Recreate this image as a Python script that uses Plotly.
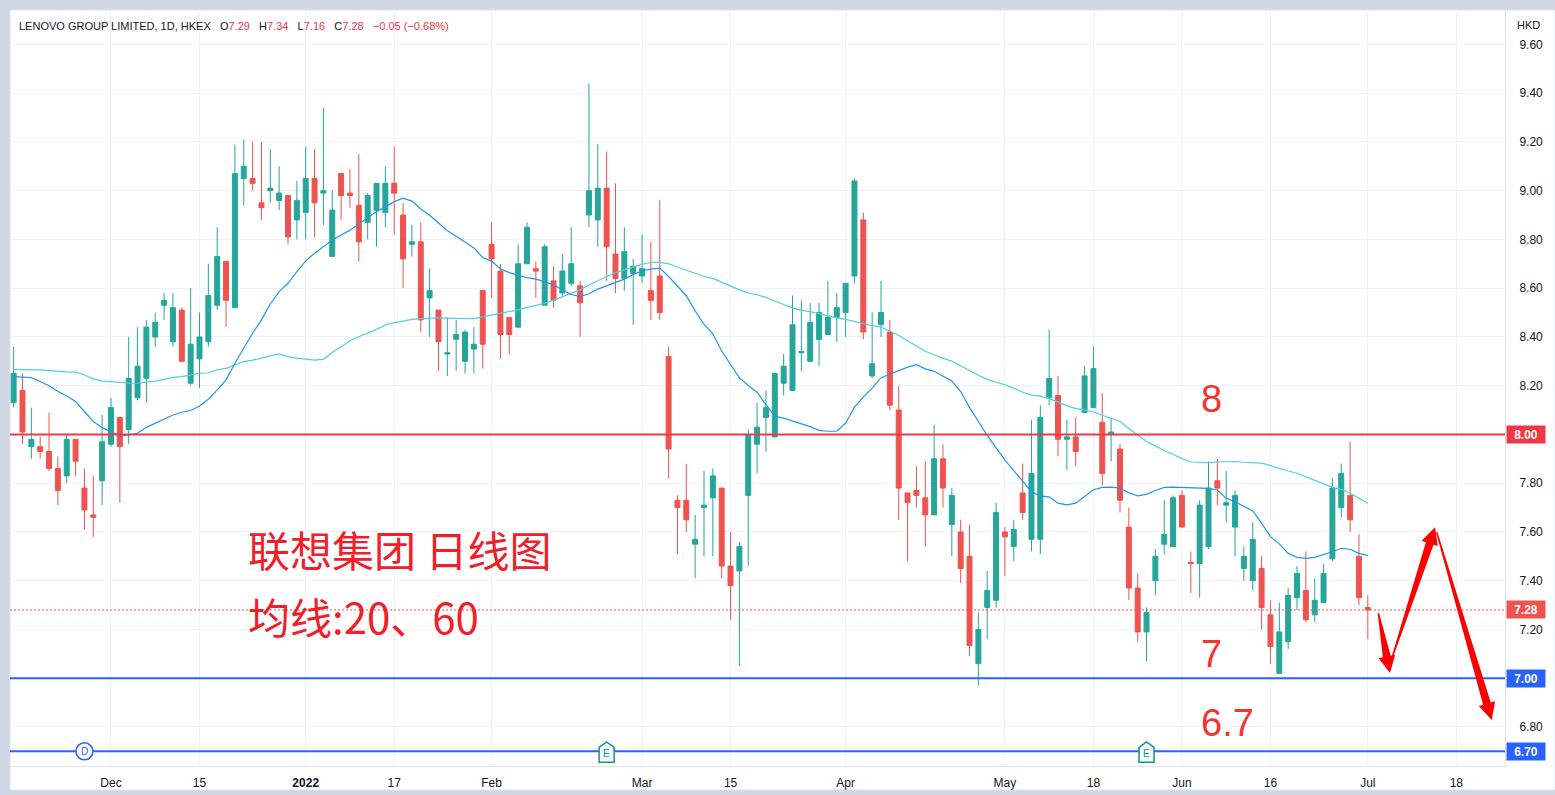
import math
import pandas as pd
import plotly.graph_objects as go

# ---------------- data ----------------
hk_holidays = ["2021-12-27", "2022-02-01", "2022-02-02", "2022-02-03", "2022-04-05",
               "2022-04-15", "2022-04-18", "2022-05-02", "2022-05-09", "2022-06-03", "2022-07-01"]
trading_days = pd.bdate_range("2021-11-16", "2022-08-12", freq="C", holidays=hk_holidays)

open_ = [8.13, 8.18, 7.95, 7.95, 7.93, 7.86, 7.83, 7.98, 7.78, 7.67,
         7.81, 7.96, 8.07, 8.02, 8.15, 8.23, 8.40, 8.53, 8.38, 8.51,
         8.21, 8.31, 8.38, 8.53, 8.71, 8.52, 9.05, 9.05, 8.95, 9.00,
         8.96, 8.98, 8.88, 8.91, 9.05, 8.99, 8.73, 9.07, 8.99, 8.94,
         8.87, 8.92, 8.91, 9.03, 8.90, 8.78, 8.79, 8.56, 8.51, 8.33,
         8.39, 8.30, 8.35, 8.59, 8.78, 8.67, 8.48, 8.44, 8.70, 8.68,
         8.53, 8.63, 8.58, 8.62, 8.61, 8.90, 8.88, 9.01, 8.74, 8.64,
         8.66, 8.65, 8.59, 8.65, 8.32, 7.73, 7.73, 7.55, 7.70, 7.74,
         7.78, 7.46, 7.44, 7.75, 7.96, 8.07, 7.99, 8.21, 8.18, 8.335,
         8.30, 8.39, 8.41, 8.48, 8.50, 8.65, 8.88, 8.24, 8.45, 8.42,
         8.10, 7.76, 7.77, 7.74, 7.67, 7.90, 7.63, 7.60, 7.50, 7.06,
         7.29, 7.32, 7.60, 7.54, 7.76, 7.57, 7.57, 8.15, 8.16, 7.98,
         7.99, 8.09, 8.11, 8.05, 8.00, 7.94, 7.62, 7.37, 7.19, 7.40,
         7.55, 7.54, 7.75, 7.475, 7.47, 7.54, 7.81, 7.71, 7.62, 7.45,
         7.40, 7.45, 7.26, 7.02, 7.15, 7.33, 7.36, 7.26, 7.31, 7.49,
         7.70, 7.75, 7.50, 7.29]
high = [8.36, 8.25, 8.11, 7.99, 8.09, 7.91, 8.00, 7.98, 7.86, 7.83,
        8.08, 8.15, 8.07, 8.40, 8.44, 8.47, 8.50, 8.58, 8.58, 8.52,
        8.60, 8.50, 8.70, 8.85, 8.71, 9.19, 9.21, 9.20, 9.20, 9.17,
        9.10, 8.98, 9.04, 9.18, 9.17, 9.34, 9.00, 9.07, 9.09, 9.15,
        8.99, 9.03, 9.10, 9.18, 8.95, 8.86, 8.87, 8.68, 8.51, 8.48,
        8.47, 8.43, 8.44, 8.59, 8.87, 8.70, 8.48, 8.78, 8.87, 8.71,
        8.78, 8.69, 8.74, 8.85, 8.63, 9.44, 9.19, 9.16, 9.03, 8.85,
        8.72, 8.82, 8.79, 8.96, 8.36, 7.75, 7.88, 7.67, 7.85, 7.86,
        7.78, 7.60, 7.56, 8.02, 8.13, 8.18, 8.25, 8.33, 8.57, 8.55,
        8.54, 8.54, 8.63, 8.58, 8.62, 9.05, 8.91, 8.50, 8.63, 8.47,
        8.20, 7.76, 7.87, 7.89, 8.04, 7.96, 7.78, 7.65, 7.63, 7.27,
        7.44, 7.72, 7.62, 7.65, 7.88, 8.06, 8.12, 8.43, 8.24, 8.06,
        8.07, 8.28, 8.36, 8.17, 8.07, 7.96, 7.70, 7.43, 7.29, 7.53,
        7.73, 7.75, 7.77, 7.52, 7.73, 7.89, 7.90, 7.85, 7.77, 7.54,
        7.64, 7.50, 7.32, 7.31, 7.37, 7.46, 7.52, 7.41, 7.47, 7.82,
        7.88, 7.97, 7.59, 7.34]
low = [8.11, 7.96, 7.90, 7.90, 7.85, 7.71, 7.80, 7.83, 7.61, 7.58,
       7.71, 7.95, 7.72, 7.96, 8.14, 8.13, 8.36, 8.47, 8.36, 8.30,
       8.20, 8.19, 8.36, 8.51, 8.44, 8.52, 8.94, 9.00, 8.88, 8.95,
       8.92, 8.78, 8.80, 8.80, 8.81, 8.86, 8.73, 8.88, 8.93, 8.71,
       8.80, 8.77, 8.85, 8.82, 8.60, 8.73, 8.42, 8.40, 8.26, 8.24,
       8.26, 8.25, 8.25, 8.27, 8.56, 8.31, 8.33, 8.44, 8.70, 8.56,
       8.53, 8.52, 8.57, 8.61, 8.40, 8.85, 8.77, 8.63, 8.58, 8.59,
       8.45, 8.62, 8.47, 8.47, 7.82, 7.51, 7.60, 7.41, 7.50, 7.50,
       7.41, 7.24, 7.05, 7.46, 7.84, 7.93, 7.99, 8.16, 8.18, 8.26,
       8.30, 8.28, 8.41, 8.38, 8.40, 8.62, 8.39, 8.23, 8.40, 8.10,
       7.65, 7.48, 7.70, 7.54, 7.67, 7.70, 7.50, 7.39, 7.09, 6.97,
       7.16, 7.29, 7.42, 7.48, 7.65, 7.52, 7.51, 8.12, 7.91, 7.855,
       7.87, 8.09, 8.11, 7.79, 7.89, 7.68, 7.32, 7.15, 7.07, 7.34,
       7.51, 7.54, 7.62, 7.35, 7.33, 7.53, 7.71, 7.64, 7.50, 7.40,
       7.36, 7.20, 7.06, 7.02, 7.12, 7.28, 7.23, 7.23, 7.31, 7.48,
       7.66, 7.60, 7.30, 7.16]
close = [8.25, 8.01, 7.98, 7.93, 7.86, 7.77, 7.98, 7.89, 7.69, 7.66,
         7.97, 8.11, 7.95, 8.23, 8.28, 8.44, 8.46, 8.55, 8.52, 8.30,
         8.37, 8.40, 8.57, 8.73, 8.55, 9.07, 9.10, 9.03, 8.93, 9.01,
         8.99, 8.81, 8.96, 9.05, 8.95, 9.00, 8.92, 8.98, 8.98, 8.79,
         8.98, 9.03, 9.03, 8.99, 8.72, 8.79, 8.47, 8.59, 8.38, 8.335,
         8.41, 8.42, 8.37, 8.37, 8.72, 8.41, 8.41, 8.70, 8.85, 8.67,
         8.77, 8.55, 8.67, 8.70, 8.54, 9.00, 9.01, 8.77, 8.64, 8.75,
         8.69, 8.68, 8.55, 8.50, 7.94, 7.70, 7.65, 7.57, 7.71, 7.83,
         7.46, 7.38, 7.54, 8.00, 8.03, 8.11, 8.25, 8.28, 8.45, 8.34,
         8.46, 8.50, 8.48, 8.52, 8.62, 9.04, 8.42, 8.29, 8.50, 8.12,
         7.78, 7.72, 7.75, 7.67, 7.90, 7.78, 7.75, 7.45, 7.135, 7.20,
         7.36, 7.68, 7.58, 7.61, 7.68, 7.84, 8.07, 8.23, 7.98, 7.99,
         7.93, 8.24, 8.27, 7.84, 8.01, 7.73, 7.37, 7.19, 7.27, 7.50,
         7.59, 7.74, 7.62, 7.47, 7.71, 7.78, 7.78, 7.72, 7.75, 7.50,
         7.57, 7.29, 7.13, 7.19, 7.34, 7.43, 7.24, 7.32, 7.43, 7.78,
         7.84, 7.65, 7.33, 7.28]
ma20 = [8.237, 8.235, 8.233, 8.217, 8.200, 8.176, 8.158, 8.135, 8.094, 8.053,
        8.028, 8.012, 7.994, 7.998, 8.005, 8.029, 8.046, 8.062, 8.080, 8.091,
        8.098, 8.117, 8.144, 8.183, 8.224, 8.292, 8.353, 8.415, 8.470, 8.535,
        8.586, 8.620, 8.668, 8.712, 8.743, 8.770, 8.797, 8.818, 8.838, 8.863,
        8.887, 8.914, 8.934, 8.955, 8.969, 8.957, 8.925, 8.899, 8.867, 8.836,
        8.813, 8.789, 8.765, 8.726, 8.711, 8.679, 8.664, 8.653, 8.643, 8.637,
        8.627, 8.613, 8.593, 8.574, 8.565, 8.577, 8.596, 8.609, 8.624, 8.637,
        8.656, 8.671, 8.678, 8.682, 8.648, 8.609, 8.569, 8.507, 8.452, 8.413,
        8.342, 8.287, 8.232, 8.201, 8.173, 8.122, 8.075, 8.067, 8.056, 8.046,
        8.032, 8.017, 8.013, 8.013, 8.046, 8.111, 8.154, 8.190, 8.233, 8.247,
        8.262, 8.276, 8.286, 8.269, 8.259, 8.240, 8.219, 8.176, 8.111, 8.053,
        7.996, 7.945, 7.895, 7.852, 7.809, 7.765, 7.747, 7.744, 7.718, 7.711,
        7.718, 7.744, 7.773, 7.783, 7.784, 7.780, 7.761, 7.748, 7.754, 7.770,
        7.783, 7.784, 7.783, 7.780, 7.779, 7.779, 7.772, 7.738, 7.724, 7.704,
        7.686, 7.636, 7.581, 7.551, 7.512, 7.496, 7.492, 7.496, 7.506, 7.519,
        7.533, 7.529, 7.512, 7.503]
ma60 = [8.267, 8.267, 8.267, 8.265, 8.262, 8.258, 8.257, 8.256, 8.244, 8.228,
        8.219, 8.217, 8.213, 8.210, 8.210, 8.214, 8.219, 8.226, 8.234, 8.237,
        8.244, 8.251, 8.253, 8.265, 8.271, 8.285, 8.299, 8.305, 8.315, 8.322,
        8.330, 8.319, 8.313, 8.310, 8.305, 8.308, 8.336, 8.360, 8.384, 8.401,
        8.415, 8.431, 8.449, 8.459, 8.465, 8.472, 8.475, 8.477, 8.478, 8.477,
        8.475, 8.475, 8.475, 8.482, 8.491, 8.496, 8.504, 8.511, 8.521, 8.530,
        8.538, 8.551, 8.565, 8.577, 8.593, 8.613, 8.632, 8.648, 8.664, 8.676,
        8.687, 8.698, 8.706, 8.706, 8.700, 8.687, 8.671, 8.659, 8.648, 8.640,
        8.624, 8.609, 8.593, 8.580, 8.573, 8.562, 8.549, 8.533, 8.519, 8.509,
        8.504, 8.495, 8.486, 8.478, 8.472, 8.463, 8.453, 8.446, 8.440, 8.423,
        8.406, 8.384, 8.363, 8.341, 8.327, 8.312, 8.301, 8.283, 8.262, 8.243,
        8.226, 8.214, 8.204, 8.190, 8.173, 8.161, 8.157, 8.147, 8.132, 8.118,
        8.106, 8.101, 8.092, 8.079, 8.069, 8.053, 8.024, 7.996, 7.971, 7.953,
        7.934, 7.919, 7.901, 7.887, 7.884, 7.884, 7.887, 7.889, 7.889, 7.886,
        7.884, 7.882, 7.872, 7.860, 7.850, 7.841, 7.827, 7.813, 7.797, 7.783,
        7.775, 7.759, 7.738, 7.718]

tick_dates = ["2021-12-01", "2021-12-15", "2022-01-03", "2022-01-17", "2022-02-04", "2022-03-01",
              "2022-03-15", "2022-04-01", "2022-05-03", "2022-05-18", "2022-06-01", "2022-06-16",
              "2022-07-04", "2022-07-18"]
tick_labels = ["Dec", "15", "<b>2022</b>", "17", "Feb", "Mar", "15", "Apr", "May", "18", "Jun",
               "16", "Jul", "18"]
price_ticks = [6.8, 7.2, 7.4, 7.6, 7.8, 8.2, 8.4, 8.6, 8.8, 9.0, 9.2, 9.4, 9.6]
level_lines = [8.00, 7.00, 6.70]
level_colors = ["#f23645", "#2962ff", "#2962ff"]
events = [("D", "2021-11-26"), ("E", "2022-02-23"), ("E", "2022-05-26")]
# hand-drawn forecast arrows: (bars after last bar, price) start -> end
arrows = [((1.19, 7.267), (2.51, 7.021)),
          ((2.70, 7.079), (7.59, 7.619)),
          ((7.78, 7.600), (14.0, 6.829))]
level_notes = [("8", 8.146), ("7", 7.10), ("6.7", 6.815)]

n = len(close)
x_idx = list(range(n))
tick_pos = [trading_days.get_loc(pd.Timestamp(d)) for d in tick_dates]

UP = "#26a69a"
DOWN = "#ef5350"
TXT = "#131722"
ANN_RED = "#f0202a"

# ---------------- geometry ----------------
W, H = 1555, 795
ML, MR, MT, MB = 10, 50, 10, 29
PW, PH = W - ML - MR, H - MT - MB
XR = [-0.41, 168.5]
YR = [6.640, 9.741]
kx = PW / (XR[1] - XR[0])
ky = PH / (YR[1] - YR[0])


def to_px(x, y):
    return x * kx, -y * ky


def from_px(X, Y):
    return X / kx, -Y / ky


def arrow_path(p0, p1, w0=0.7, w1=4.0, hw=8.5, hl=17.0):
    X0, Y0 = to_px(*p0)
    X1, Y1 = to_px(*p1)
    dx, dy = X1 - X0, Y1 - Y0
    L = math.hypot(dx, dy)
    ux, uy = dx / L, dy / L
    nx, ny = -uy, ux
    bx, by = X1 - ux * hl, Y1 - uy * hl
    pts = [(X0 + nx * w0, Y0 + ny * w0), (bx + nx * w1, by + ny * w1), (bx + nx * hw, by + ny * hw),
           (X1, Y1), (bx - nx * hw, by - ny * hw), (bx - nx * w1, by - ny * w1),
           (X0 - nx * w0, Y0 - ny * w0)]
    d = [from_px(X, Y) for X, Y in pts]
    return "M " + " L ".join(f"{a:.4f},{b:.4f}" for a, b in d) + " Z"


def house_path(xc, yc):
    X0, Y0 = to_px(xc, yc)
    offs = [(-7.5, 11), (7.5, 11), (7.5, -4), (0, -9.5), (-7.5, -4)]
    d = [from_px(X0 + a, Y0 + b) for a, b in offs]
    return "M " + " L ".join(f"{a:.4f},{b:.4f}" for a, b in d) + " Z"


fig = go.Figure()
fig.add_trace(go.Candlestick(
    x=x_idx, open=open_, high=high, low=low, close=close,
    increasing=dict(line=dict(color=UP, width=1), fillcolor=UP),
    decreasing=dict(line=dict(color=DOWN, width=1), fillcolor=DOWN),
    whiskerwidth=0, hoverinfo="skip", showlegend=False))
fig.add_trace(go.Scatter(x=x_idx, y=ma60, mode="lines", line=dict(color="#4dd0e1", width=1.2),
                         hoverinfo="skip", showlegend=False))
fig.add_trace(go.Scatter(x=x_idx, y=ma20, mode="lines", line=dict(color="#2196f3", width=1.2),
                         hoverinfo="skip", showlegend=False))

shapes = []
# white panel behind axes area
shapes.append(dict(type="rect", xref="paper", yref="paper", x0=0, x1=1 + MR / PW,
                   y0=-(MB - 5) / PH, y1=1, fillcolor="white", line=dict(width=0), layer="below"))
shapes.append(dict(type="rect", xref="paper", yref="paper", x0=0, x1=1 + MR / PW,
                   y0=-(MB - 5) / PH, y1=1, fillcolor="rgba(0,0,0,0)",
                   line=dict(width=1, color="#e0e3eb"), layer="below"))
for lv, col in zip(level_lines, level_colors):
    shapes.append(dict(type="line", xref="paper", x0=0, x1=1, yref="y", y0=lv, y1=lv,
                       line=dict(color=col, width=2)))
last_close = close[-1]
shapes.append(dict(type="line", xref="paper", x0=0, x1=1, yref="y", y0=last_close, y1=last_close,
                   line=dict(color=DOWN, width=1, dash="2px,2px")))
for p0, p1 in arrows:
    shapes.append(dict(type="path", xref="x", yref="y",
                       path=arrow_path((n - 1 + p0[0], p0[1]), (n - 1 + p1[0], p1[1])),
                       fillcolor="#ff0000", line=dict(width=0)))

annotations = []
event_y = level_lines[-1]
for kind, d in events:
    xi = trading_days.get_loc(pd.Timestamp(d))
    if kind == "D":
        rx, ry = 8.5 / kx, 8.5 / ky
        shapes.append(dict(type="circle", xref="x", yref="y", x0=xi - rx, x1=xi + rx,
                           y0=event_y - ry, y1=event_y + ry, fillcolor="white",
                           line=dict(color="#2962ff", width=1.5)))
        annotations.append(dict(x=xi, y=event_y, xref="x", yref="y", text="D", showarrow=False,
                                font=dict(color="#2962ff", size=10, family="Liberation Sans"),
                                yshift=0))
    else:
        shapes.append(dict(type="path", xref="x", yref="y", path=house_path(xi, event_y),
                           fillcolor="white", line=dict(color="#089981", width=1.5)))
        annotations.append(dict(x=xi, y=event_y, xref="x", yref="y", text="E", showarrow=False,
                                font=dict(color="#089981", size=10, family="Liberation Sans"),
                                yshift=-2))

# price badges on the right axis
badges = [(level_lines[0], "#f23645"), (last_close, DOWN), (level_lines[1], "#2962ff"),
          (level_lines[2], "#2962ff")]
for val, col in badges:
    annotations.append(dict(x=1, xref="paper", y=val, yref="y", xanchor="left", xshift=1,
                            text=f"<b>{val:.2f}</b>", showarrow=False, bgcolor=col,
                            font=dict(color="white", size=12, family="Liberation Sans"),
                            width=36, height=15, borderpad=1))
annotations.append(dict(x=1, xref="paper", y=1, yref="paper", xanchor="left", yanchor="top",
                        xshift=10, yshift=-7, text="HKD", showarrow=False,
                        font=dict(color=TXT, size=11, family="Liberation Sans")))

# header
chg = close[-1] - close[-2]
pct = chg / close[-2] * 100
red = "#f23645"


def fmt(v):
    return f"{v:.2f}".replace("-", "−")


header = (f"LENOVO GROUP LIMITED, 1D, HKEX&nbsp;&nbsp;&nbsp;O<span style='color:{red}'>{open_[-1]:.2f}</span>"
          f"&nbsp;&nbsp;&nbsp;H<span style='color:{red}'>{high[-1]:.2f}</span>"
          f"&nbsp;&nbsp;&nbsp;L<span style='color:{red}'>{low[-1]:.2f}</span>"
          f"&nbsp;&nbsp;&nbsp;C<span style='color:{red}'>{close[-1]:.2f}</span>"
          f"&nbsp;&nbsp;&nbsp;<span style='color:{red}'>{fmt(chg)} ({fmt(pct)}%)</span>")
annotations.append(dict(x=0, xref="paper", y=1, yref="paper", xanchor="left", yanchor="top",
                        xshift=7, yshift=-8, text=header, showarrow=False,
                        font=dict(color=TXT, size=11, family="Liberation Sans")))

# hand-written notes
cjk = "Noto Sans CJK SC"
x_note = (246 - ML) / kx + XR[0]
annotations.append(dict(x=x_note, y=7.534, xref="x", yref="y", xanchor="left", yanchor="middle",
                        text="联想集团 日线图", showarrow=False,
                        font=dict(color=ANN_RED, size=42, family=cjk)))
annotations.append(dict(x=x_note, y=7.259, xref="x", yref="y", xanchor="left", yanchor="middle",
                        text="均线:20、60", showarrow=False,
                        font=dict(color=ANN_RED, size=42, family=cjk)))
x_lv = (1198.5 - ML) / kx + XR[0]
for txt, yv in level_notes:
    annotations.append(dict(x=x_lv, y=yv, xref="x", yref="y", xanchor="left", yanchor="middle",
                            text=txt, showarrow=False,
                            font=dict(color="#f2352e", size=38, family="Liberation Sans")))

fig.update_layout(
    width=W, height=H, margin=dict(l=ML, r=MR, t=MT, b=MB, autoexpand=False),
    paper_bgcolor="#cfd6e4", plot_bgcolor="white",
    shapes=shapes, annotations=annotations, showlegend=False, boxgap=0.2,
    xaxis=dict(range=XR, tickmode="array", tickvals=tick_pos, ticktext=tick_labels,
               showgrid=True, gridcolor="#f0f3fa", gridwidth=1, zeroline=False,
               showline=True, linecolor="#e0e3eb", linewidth=1, ticks="", automargin=False,
               ticklabelstandoff=6, rangeslider=dict(visible=False),
               tickfont=dict(color=TXT, size=12, family="Liberation Sans")),
    yaxis=dict(range=YR, side="right", tickmode="array", tickvals=price_ticks,
               tickformat=".2f", showgrid=True, gridcolor="#f0f3fa", gridwidth=1,
               zeroline=False, showline=True, linecolor="#e0e3eb", linewidth=1, ticks="",
               ticklabelstandoff=11, automargin=False,
               tickfont=dict(color=TXT, size=12, family="Liberation Sans")),
)

fig.write_html("out.html", config={"displayModeBar": False},
               post_script="document.body.style.margin='0';document.body.style.overflow='hidden';")
